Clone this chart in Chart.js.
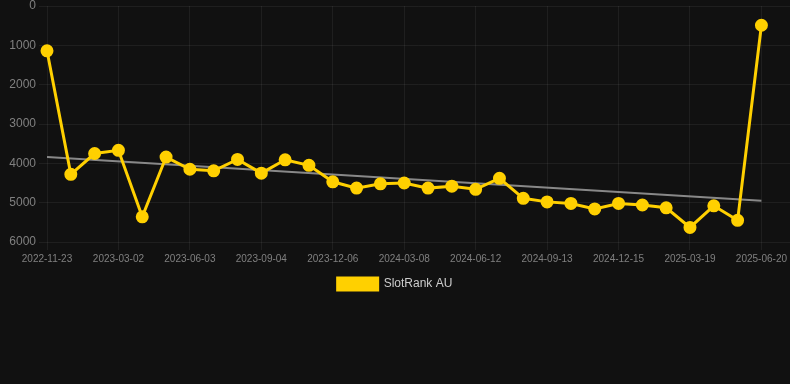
<!DOCTYPE html>
<html>
<head>
<meta charset="utf-8">
<script src="https://cdn.jsdelivr.net/npm/chart.js@4"></script>
<style>
  html, body { margin: 0; padding: 0; background: #111111; }
  #wrap { position: relative; width: 790px; height: 300px; }
</style>
</head>
<body>
<div id="wrap"><canvas id="c"></canvas></div>
<script>
const dates = [
  "2022-11-23","2022-12-26","2023-01-28","2023-03-02","2023-04-02","2023-05-03",
  "2023-06-03","2023-07-04","2023-08-04","2023-09-04","2023-10-05","2023-11-05",
  "2023-12-06","2024-01-06","2024-02-06","2024-03-08","2024-04-09","2024-05-11",
  "2024-06-12","2024-07-13","2024-08-13","2024-09-13","2024-10-14","2024-11-14",
  "2024-12-15","2025-01-16","2025-02-17","2025-03-19","2025-04-20","2025-05-20",
  "2025-06-20"
];
const rankValues = [
  1140, 4280, 3750, 3670, 5360, 3840, 4150, 4190, 3900, 4250, 3910,
  4050, 4470, 4630, 4520, 4500, 4630, 4580, 4660, 4380, 4890, 4980,
  5020, 5160, 5020, 5060, 5130, 5630, 5080, 5450, 490
];
const trendEnds = [3840, 4950];
const yTicks = [0, 1000, 2000, 3000, 4000, 5000, 6000];
const seriesName = "SlotRank AU";

const points = rankValues.map((v, i) => ({ x: i, y: v }));
const trendPoints = [{ x: 0, y: trendEnds[0] }, { x: dates.length - 1, y: trendEnds[1] }];
const labelIdx = dates.map((d, i) => i).filter(i => i % 3 === 0);

const font = { family: "'Liberation Sans', Arial, sans-serif" };

new Chart(document.getElementById('c'), {
  type: 'line',
  data: {
    datasets: [
      {
        label: seriesName,
        data: points,
        borderColor: '#FFD000',
        backgroundColor: '#FFD000',
        pointBackgroundColor: '#FFD000',
        pointBorderColor: '#FFD000',
        borderWidth: 3,
        pointRadius: 5,
        tension: 0,
        clip: false,
        order: 1
      },
      {
        label: 'trend',
        data: trendPoints,
        borderColor: 'rgba(150,150,150,0.9)',
        borderWidth: 2,
        pointRadius: 0,
        tension: 0,
        order: 2
      }
    ]
  },
  options: {
    responsive: true,
    maintainAspectRatio: false,
    animation: false,
    layout: { padding: 0, autoPadding: false },
    plugins: {
      legend: {
        position: 'bottom',
        labels: {
          color: '#cccccc',
          font: { ...font, size: 12 },
          boxWidth: 40,
          boxHeight: 12,
          filter: item => item.text === seriesName
        }
      },
      tooltip: { enabled: false }
    },
    scales: {
      x: {
        type: 'linear',
        min: 0,
        max: 31.2,
        afterBuildTicks: scale => { scale.ticks = labelIdx.map(v => ({ value: v })); },
        afterFit: scale => { scale.paddingLeft = 0; scale.paddingRight = 0; },
        ticks: {
          color: '#808080',
          font: { ...font, size: 10 },
          maxRotation: 0,
          autoSkip: false,
          callback: v => dates[v]
        },
        grid: { color: 'rgba(255,255,255,0.06)', tickLength: 8 },
        border: { display: false }
      },
      y: {
        reverse: true,
        min: 0,
        max: 6000,
        afterBuildTicks: scale => { scale.ticks = yTicks.map(v => ({ value: v })); },
        afterFit: scale => { scale.width = 47; scale.paddingTop = 6; },
        ticks: {
          color: '#808080',
          font: { ...font, size: 12 },
          callback: v => String(v)
        },
        grid: { color: 'rgba(255,255,255,0.06)', tickLength: 8 },
        border: { display: false }
      }
    }
  }
});
</script>
</body>
</html>
